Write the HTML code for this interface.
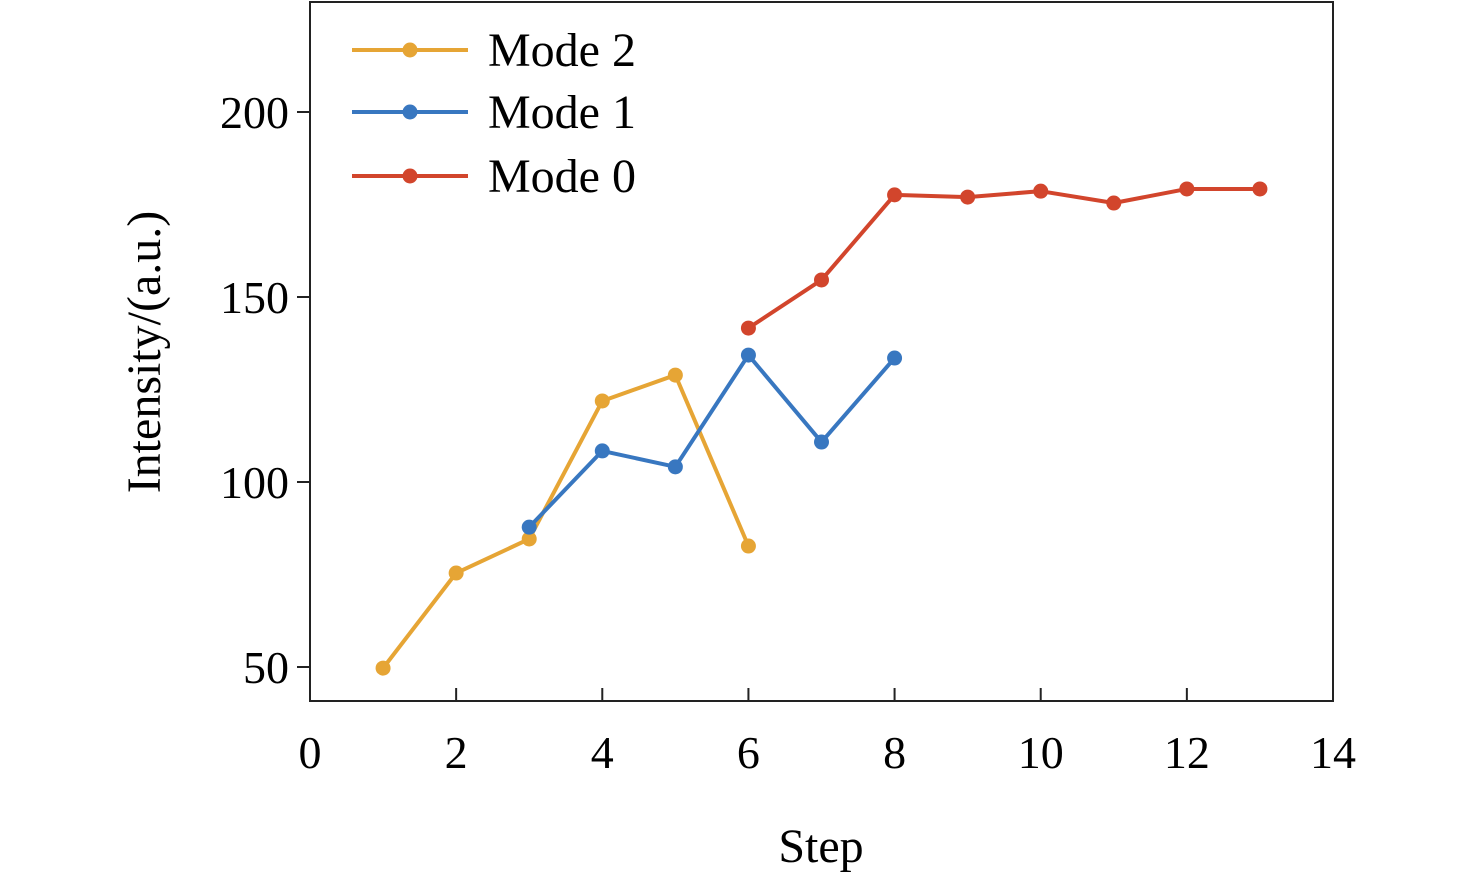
<!DOCTYPE html>
<html><head><meta charset="utf-8"><style>
body{margin:0;background:#fff}
svg{display:block;font-family:"Liberation Serif",serif}
</style></head><body>
<svg id="chart" width="1476" height="879" viewBox="0 0 1476 879" xmlns="http://www.w3.org/2000/svg">
<rect x="310" y="2" width="1023" height="699" fill="none" stroke="#222" stroke-width="2"/>
<g id="axes"></g>
<g id="series"></g>
<text x="821" y="862" font-size="48" text-anchor="middle">Step</text>
<text transform="translate(160,352) rotate(-90)" font-size="48" text-anchor="middle">Intensity/(a.u.)</text>
<g id="legend"></g>
</svg>
<script>
const xTicks=[0,2,4,6,8,10,12,14];
const yTicks=[50,100,150,200];
const stepsMode2=[1,2,3,4,5,6];
const valuesMode2=[49.7,75.4,84.6,121.9,128.9,82.7];
const stepsMode1=[3,4,5,6,7,8];
const valuesMode1=[87.8,108.4,104.1,134.3,110.8,133.5];
const stepsMode0=[6,7,8,9,10,11,12,13];
const valuesMode0=[141.6,154.6,177.6,177.0,178.6,175.4,179.2,179.2];

const NS="http://www.w3.org/2000/svg";
const X=v=>310+v*(1023/14);
const Y=v=>667-(v-50)*3.7;
function mk(t,a,p){const e=document.createElementNS(NS,t);for(const k in a)e.setAttribute(k,a[k]);p.appendChild(e);return e;}
const axes=document.getElementById('axes');
xTicks.forEach(t=>{
  const l=mk('line',{x1:X(t),x2:X(t),y1:701,y2:688,stroke:'#222','stroke-width':2},axes);
  
  
  const tx=mk('text',{x:X(t),y:768,'font-size':46,'text-anchor':'middle'},axes);
  tx.textContent=t;
  
  
});
yTicks.forEach(t=>{
  const l=mk('line',{x1:297,x2:310,y1:Y(t),y2:Y(t),stroke:'#222','stroke-width':2},axes);
  
  
  const tx=mk('text',{x:289,y:Y(t)+16,'font-size':46,'text-anchor':'end'},axes);
  tx.textContent=t;
  
  
});
const ser=document.getElementById('series');
function draw(xs,ys,color,name){
  const g=mk('g',{},ser);
  
  
  const pl=mk('polyline',{points:xs.map((x,i)=>X(x)+','+Y(ys[i])).join(' '),fill:'none',stroke:color,'stroke-width':4,'stroke-linejoin':'round'},g);
  
  
  xs.forEach((x,i)=>{
    const c=mk('circle',{cx:X(x),cy:Y(ys[i]),r:7.5,fill:color},g);
    
    
  });
}
draw(stepsMode2,valuesMode2,'#E6A535','mode-2-series');
draw(stepsMode1,valuesMode1,'#3877C0','mode-1-series');
draw(stepsMode0,valuesMode0,'#D2452C','mode-0-series');
const lg=document.getElementById('legend');


[['Mode 2','#E6A535',50],['Mode 1','#3877C0',112],['Mode 0','#D2452C',176]].forEach(([t,c,y])=>{
  const g=mk('g',{},lg);
  
  
  mk('line',{x1:352,x2:468,y1:y,y2:y,stroke:c,'stroke-width':4},g);
  mk('circle',{cx:410,cy:y,r:7.5,fill:c},g);
  const tx=mk('text',{x:488,y:y+16,'font-size':48},g);
  tx.textContent=t;
});
</script>
</body></html>
